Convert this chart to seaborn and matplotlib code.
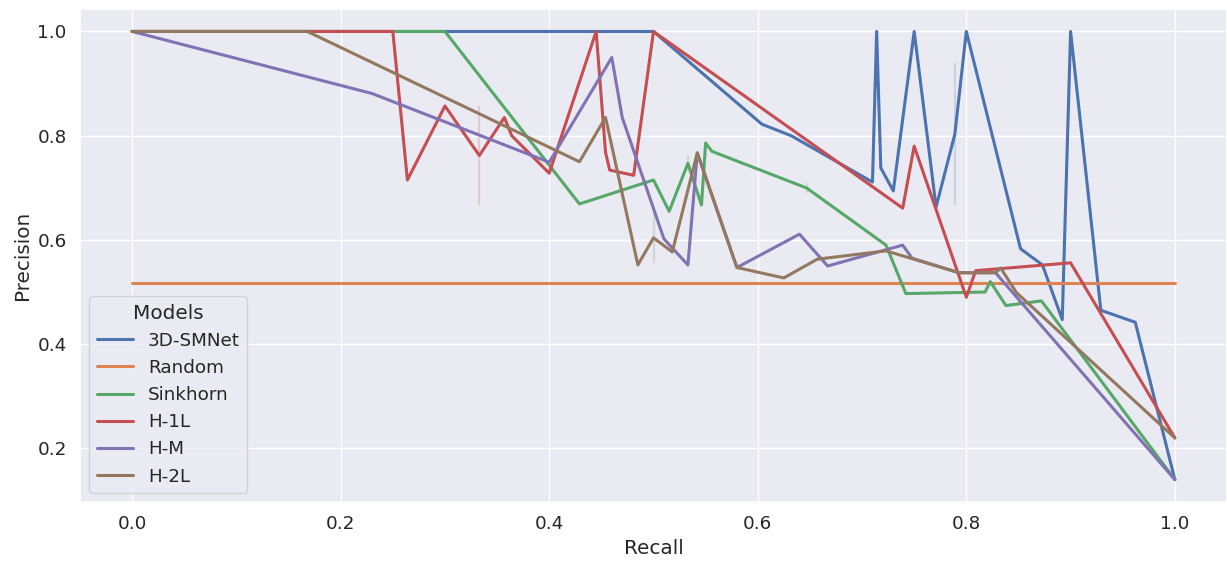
import numpy as np
import pandas as pd
import matplotlib
matplotlib.use("Agg")
import matplotlib.pyplot as plt
import seaborn as sns

# Precision-recall points per model (repeated recall values are averaged by lineplot)
models = ["3D-SMNet", "Random", "Sinkhorn", "H-1L", "H-M", "H-2L"]

smnet_recall = [0.0, 0.5, 0.604, 0.632, 0.710, 0.714, 0.718, 0.730, 0.750, 0.771,
                0.789, 0.789, 0.800, 0.852, 0.873, 0.892, 0.900, 0.929, 0.962, 1.0]
smnet_precision = [1.0, 1.0, 0.822, 0.800, 0.711, 1.0, 0.738, 0.694, 1.0, 0.663,
                   0.939, 0.667, 1.0, 0.583, 0.552, 0.447, 1.0, 0.465, 0.442, 0.14]

random_recall = [0.0, 1.0]
random_precision = [0.517, 0.517]

sinkhorn_recall = [0.0, 0.3, 0.429, 0.5, 0.515, 0.533, 0.533, 0.546, 0.550, 0.556,
                   0.647, 0.647, 0.723, 0.742, 0.818, 0.823, 0.838, 0.872, 1.0]
sinkhorn_precision = [1.0, 1.0, 0.669, 0.715, 0.655, 0.762, 0.732, 0.667, 0.786, 0.770,
                      0.709, 0.690, 0.590, 0.497, 0.500, 0.520, 0.474, 0.483, 0.14]

h1l_recall = [0.0, 0.25, 0.264, 0.300, 0.333, 0.333, 0.357, 0.364, 0.400, 0.445,
              0.454, 0.458, 0.481, 0.500, 0.739, 0.750, 0.800, 0.809, 0.900, 1.0]
h1l_precision = [1.0, 1.0, 0.715, 0.857, 0.857, 0.667, 0.835, 0.800, 0.728, 1.0,
                 0.768, 0.734, 0.724, 1.0, 0.661, 0.780, 0.490, 0.541, 0.556, 0.22]

hm_recall = [0.0, 0.230, 0.400, 0.460, 0.470, 0.510, 0.533, 0.542, 0.580, 0.640,
             0.667, 0.739, 0.748, 0.793, 0.828, 1.0]
hm_precision = [1.0, 0.881, 0.749, 0.950, 0.835, 0.602, 0.552, 0.767, 0.547, 0.611,
                0.550, 0.590, 0.565, 0.537, 0.537, 0.14]

h2l_recall = [0.0, 0.168, 0.429, 0.454, 0.485, 0.5, 0.5, 0.518, 0.542, 0.580,
              0.625, 0.657, 0.723, 0.793, 0.828, 0.833, 0.848, 1.0]
h2l_precision = [1.0, 1.0, 0.750, 0.835, 0.552, 0.652, 0.556, 0.577, 0.767, 0.547,
                 0.527, 0.563, 0.579, 0.537, 0.537, 0.546, 0.499, 0.22]

curves = {
    "3D-SMNet": (smnet_recall, smnet_precision),
    "Random": (random_recall, random_precision),
    "Sinkhorn": (sinkhorn_recall, sinkhorn_precision),
    "H-1L": (h1l_recall, h1l_precision),
    "H-M": (hm_recall, hm_precision),
    "H-2L": (h2l_recall, h2l_precision),
}

frames = []
for name in models:
    r, p = curves[name]
    frames.append(pd.DataFrame({"Recall": r, "Precision": p, "Models": name}))
df = pd.concat(frames, ignore_index=True)

sns.set_theme(style="darkgrid", font_scale=1.2)

fig = plt.figure(figsize=(12.27, 5.66), dpi=100)
ax = fig.add_axes([0.0652, 0.113, 0.9348, 0.871])

sns.lineplot(data=df, x="Recall", y="Precision", hue="Models", hue_order=models,
             seed=0, linewidth=2.2, err_kws={"linewidth": 1.6}, ax=ax)

leg = ax.legend(title="Models", loc="lower left")
for line in leg.get_lines():
    line.set_linewidth(2.2)

fig.savefig("out.png", dpi=100)
